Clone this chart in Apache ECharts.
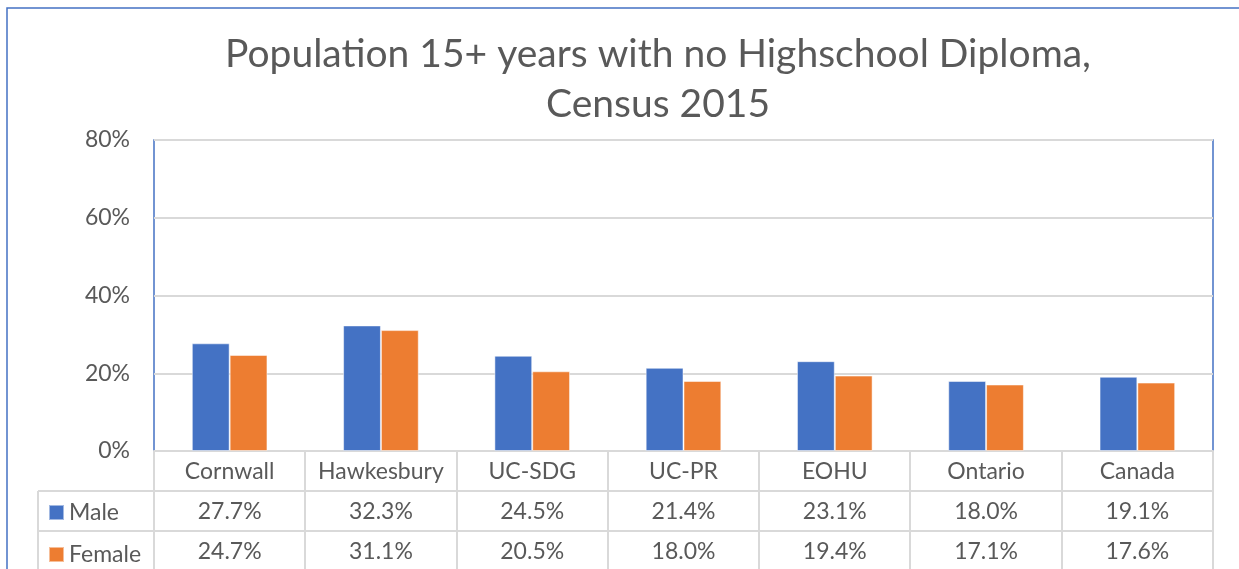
<!DOCTYPE html>
<html>
<head>
<meta charset="utf-8">
<script src="https://cdn.jsdelivr.net/npm/echarts@6/dist/echarts.min.js"></script>
<style>
	html, body { margin: 0; padding: 0; background: #fff; }
	#chart { width: 1239px; height: 569px; }
</style>
</head>
<body>
<div id="chart"></div>
<script>
	// data
	const categories = ['Cornwall', 'Hawkesbury', 'UC-SDG', 'UC-PR', 'EOHU', 'Ontario', 'Canada']
	const male = [0.277, 0.323, 0.245, 0.214, 0.231, 0.180, 0.191]
	const female = [0.247, 0.311, 0.205, 0.180, 0.194, 0.171, 0.176]
	const seriesNames = ['Male', 'Female']

	const font = 'Lato'
	const textColor = '#595959'
	const lineColor = '#d9d9d9'
	const blue = '#4472C4'
	const orange = '#ED7D31'

	const W = 1239
	const H = 569
	const gridLeft = 154
	const gridRight = 1213
	const gridTop = 140
	const gridBottomY = 451
	const rowH = 40
	const tableLeft = 38
	const labelSize = 23

	function pct(v) {
		return (v * 100).toFixed(1) + '%'
	}

	var myChart = echarts.init(document.getElementById('chart'))

	// table lines (layout only)
	const tableLines = []
	const colW = (gridRight - gridLeft) / categories.length
	for (let i = 0; i <= categories.length; i++) {
		const x = Math.round(gridLeft + i * colW)
		tableLines.push({ type: 'line', silent: true, shape: { x1: x, y1: gridBottomY, x2: x, y2: H + 5 }, style: { stroke: lineColor, lineWidth: 2 } })
	}
	for (let r = 1; r <= 2; r++) {
		const y = gridBottomY + rowH * r
		tableLines.push({ type: 'line', silent: true, shape: { x1: tableLeft, y1: y, x2: gridRight, y2: y }, style: { stroke: lineColor, lineWidth: 2 } })
	}
	tableLines.push({ type: 'line', silent: true, shape: { x1: tableLeft, y1: gridBottomY + rowH, x2: tableLeft, y2: H + 5 }, style: { stroke: lineColor, lineWidth: 2 } })

	var option = {
		animation: false,
		textStyle: { fontFamily: font },
		title: {
			text: 'Population 15+ years with no Highschool Diploma,\nCensus 2015',
			left: 653,
			top: 24,
			textAlign: 'center',
			textStyle: {
				fontFamily: font,
				fontSize: 39,
				fontWeight: 'normal',
				color: textColor,
				lineHeight: 50
			}
		},
		legend: {
			orient: 'vertical',
			left: 48,
			top: 501,
			height: 120,
			padding: 0,
			itemWidth: 15,
			itemHeight: 15,
			itemGap: 19,
			icon: 'rect',
			data: seriesNames,
			textStyle: { fontFamily: font, fontSize: labelSize, color: textColor, padding: [0, 0, 0, 0] }
		},
		grid: {
			left: gridLeft,
			right: W - gridRight,
			top: gridTop,
			bottom: H - gridBottomY,
			show: true,
			borderColor: blue,
			borderWidth: 1.5,
			containLabel: false
		},
		yAxis: {
			type: 'value',
			min: 0,
			max: 0.8,
			interval: 0.2,
			axisLine: { show: false },
			axisTick: { show: false },
			axisLabel: {
				margin: 24,
				fontFamily: font,
				fontSize: labelSize,
				color: textColor,
				formatter: function(v) { return Math.round(v * 100) + '%' }
			},
			splitLine: { lineStyle: { color: lineColor, width: 2 } }
		},
		xAxis: [{
				type: 'category',
				data: categories,
				axisLine: { lineStyle: { color: lineColor, width: 2 } },
				axisTick: { show: false },
				axisLabel: { interval: 0, margin: 9, fontFamily: font, fontSize: labelSize, color: textColor }
			},
			{
				type: 'category',
				data: categories,
				position: 'bottom',
				offset: rowH,
				axisLine: { show: false },
				axisTick: { show: false },
				axisLabel: {
					interval: 0, margin: 9, fontFamily: font, fontSize: labelSize, color: textColor,
					formatter: function(v, i) { return pct(male[i]) }
				}
			},
			{
				type: 'category',
				data: categories,
				position: 'bottom',
				offset: rowH * 2,
				axisLine: { show: false },
				axisTick: { show: false },
				axisLabel: {
					interval: 0, margin: 9, fontFamily: font, fontSize: labelSize, color: textColor,
					formatter: function(v, i) { return pct(female[i]) }
				}
			}
		],
		series: [{
				name: seriesNames[0],
				type: 'bar',
				data: male,
				barWidth: '25%',
				barGap: '0%',
				itemStyle: { color: blue, borderColor: 'rgba(255,255,255,0.5)', borderWidth: 1 }
			},
			{
				name: seriesNames[1],
				type: 'bar',
				data: female,
				barWidth: '25%',
				barGap: '0%',
				itemStyle: { color: orange, borderColor: 'rgba(255,255,255,0.5)', borderWidth: 1 }
			}
		],
		graphic: [
			// outer chart border
			{ type: 'rect', silent: true, shape: { x: 7, y: 8, width: 1300, height: 700 }, style: { fill: 'none', stroke: blue, lineWidth: 1.5 } }
		].concat(tableLines)
	}

	myChart.setOption(option)
</script>
</body>
</html>
